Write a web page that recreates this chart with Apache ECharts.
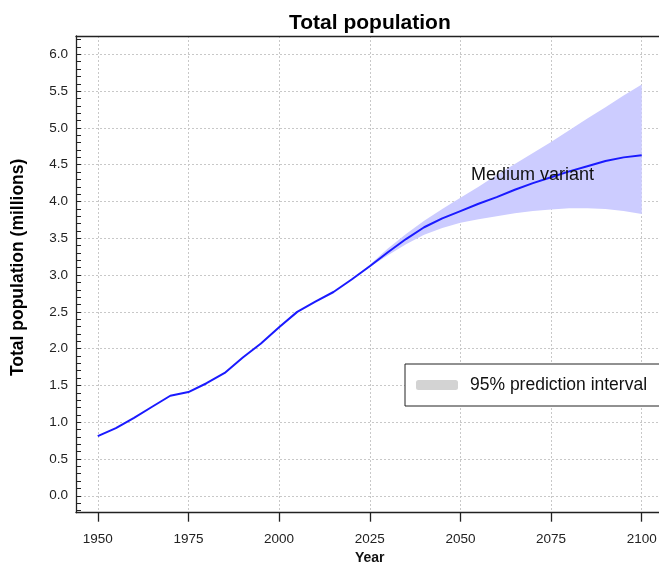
<!DOCTYPE html>
<html><head><meta charset="utf-8">
<script src="https://cdn.jsdelivr.net/npm/echarts@6/dist/echarts.min.js"></script>
<style>html,body{margin:0;padding:0;background:#fff}#c{width:659px;height:563px}</style>
</head><body><div id="c"></div>
<script>
const chartTitle = 'Total population';
const xName = 'Year';
const yName = 'Total population (millions)';
const lineName = 'Medium variant';
const bandName = '95% prediction interval';

const years = [1950,1955,1960,1965,1970,1975,1980,1985,1990,1995,2000,2005,2010,2015,2020,
               2025,2030,2035,2040,2045,2050,2055,2060,2065,2070,2075,2080,2085,2090,2095,2100];
const medium = [0.81,0.92,1.06,1.21,1.36,1.41,1.53,1.67,1.88,2.07,2.29,2.50,2.64,2.77,2.94,
                3.12,3.31,3.49,3.65,3.77,3.87,3.97,4.06,4.16,4.25,4.33,4.41,4.48,4.55,4.60,4.63];

const bandYears = [2020,2025,2030,2035,2040,2045,2050,2055,2060,2065,2070,2075,2080,2085,2090,2095,2100];
const lower95 = [2.94,3.11,3.27,3.42,3.55,3.64,3.71,3.76,3.80,3.84,3.87,3.89,3.91,3.91,3.90,3.87,3.83];
const upper95 = [2.94,3.14,3.36,3.56,3.74,3.90,4.05,4.20,4.36,4.51,4.66,4.81,4.97,5.13,5.28,5.44,5.59];

const FONT = '"Liberation Sans", Arial, Helvetica, sans-serif';
const chart = echarts.init(document.getElementById('c'), null, {renderer: 'canvas'});

const lineData = years.map((y, i) => [y, medium[i]]);
const bandData = bandYears.map((y, i) => [y, lower95[i], upper95[i]]);

const gridDash = {color: '#c8c8c8', width: 1, type: [2, 2]};

function renderBand(params, api) {
  if (params.dataIndexInside !== 0) return null;
  const up = [], low = [];
  for (let i = 0; i < bandYears.length; i++) {
    up.push(api.coord([bandYears[i], upper95[i]]));
    low.push(api.coord([bandYears[i], lower95[i]]));
  }
  const pts = up.concat(low.reverse());
  return {
    type: 'polygon',
    shape: {points: pts},
    style: {fill: '#ccccff', stroke: 'none'},
    silent: true
  };
}

chart.setOption({
  animation: false,
  backgroundColor: '#fff',
  textStyle: {fontFamily: FONT},
  title: {
    text: chartTitle, left: 284, top: 8,
    textStyle: {fontFamily: FONT, fontSize: 21, fontWeight: 'bold', color: '#000'}
  },
  grid: {left: 76, top: 36, right: -4.5, bottom: 50.3, containLabel: false, outerBoundsMode: 'none'},
  legend: {
    data: [{name: bandName, icon: 'roundRect', itemStyle: {color: '#d3d3d3', opacity: 1}}],
    left: 405, top: 364, orient: 'horizontal',
    itemWidth: 42, itemHeight: 10,
    padding: [12, 30, 12, 11],
    borderColor: '#222', borderWidth: 1, backgroundColor: '#fff',
    selectedMode: false,
    textStyle: {fontFamily: FONT, fontSize: 17.5, color: '#111', padding: [0, 0, 0, 7]}
  },
  xAxis: [{
    type: 'value', min: 1944, max: 2106, minInterval: 25, maxInterval: 25,
    name: xName, nameLocation: 'middle', nameGap: 34,
    nameTextStyle: {fontFamily: FONT, fontSize: 14, fontWeight: 'bold', color: '#111'},
    axisLine: {show: true, onZero: false, lineStyle: {color: '#222', width: 1.3}},
    axisTick: {show: true, inside: false, length: 9, lineStyle: {color: '#222', width: 1.3}},
    axisLabel: {show: true, margin: 20, fontFamily: FONT, fontSize: 13.5, color: '#222',
      showMinLabel: false, showMaxLabel: false, formatter: v => String(Math.round(v))},
    splitLine: {show: true, lineStyle: gridDash}
  }, {
    type: 'value', position: 'top', min: 1944, max: 2106,
    axisLine: {show: true, onZero: false, lineStyle: {color: '#222', width: 1.3}},
    axisTick: {show: false}, axisLabel: {show: false}, splitLine: {show: false}
  }],
  yAxis: {
    type: 'value', min: -0.23, max: 6.25, minInterval: 0.5, maxInterval: 0.5,
    name: yName, nameLocation: 'middle', nameGap: 49, nameRotate: 90,
    nameTextStyle: {fontFamily: FONT, fontSize: 17.5, fontWeight: 'bold', color: '#000',
      padding: [0, 0, 0, 14]},
    axisLine: {show: true, onZero: false, lineStyle: {color: '#222', width: 1.3}},
    axisTick: {show: true, inside: true, length: 5, lineStyle: {color: '#222', width: 1}},
    minorTick: {show: true, splitNumber: 5, length: 5, lineStyle: {color: '#222', width: 1}},
    axisLabel: {show: true, margin: 8, fontFamily: FONT, fontSize: 13.5, color: '#222',
      showMinLabel: false, showMaxLabel: false, formatter: v => v.toFixed(1)},
    splitLine: {show: true, lineStyle: gridDash}
  },
  graphic: [{
    type: 'text', left: 471, top: 166, z: 100,
    style: {text: lineName, fontFamily: FONT, fontSize: 18, fill: '#111'}
  }],
  series: [
    {
      name: bandName, type: 'custom', renderItem: renderBand, data: bandData,
      itemStyle: {color: '#ccccff'}, encode: {x: 0, y: [1, 2]}, silent: true, z: 1
    },
    {
      name: lineName, type: 'line', data: lineData, symbol: 'none',
      lineStyle: {color: '#1a1aff', width: 2}, itemStyle: {color: '#1a1aff'}, z: 5
    }
  ]
});
</script></body></html>
